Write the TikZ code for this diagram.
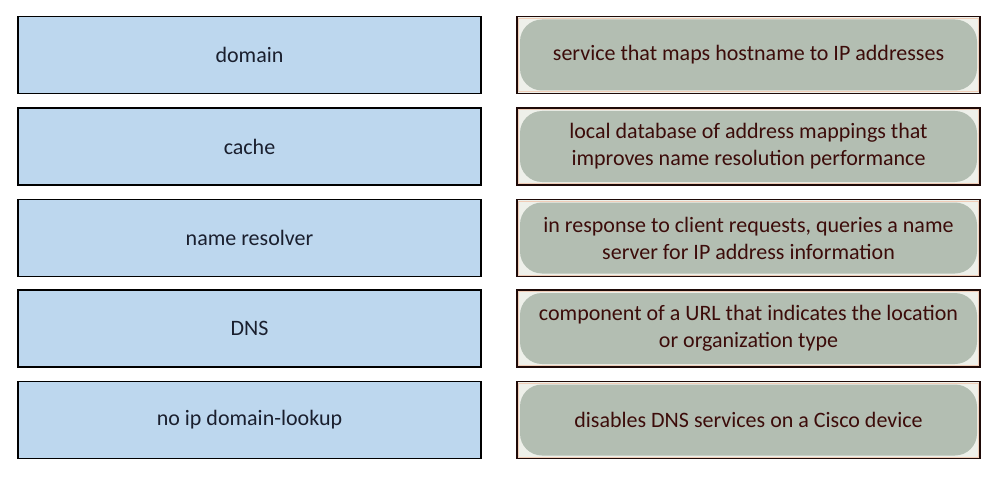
\documentclass[tikz,border=0pt]{standalone}
\usepackage{fontspec}
\setmainfont{Carlito}
\definecolor{lblue}{HTML}{BDD7EE}
\definecolor{ltext}{HTML}{1A1F2E}
\definecolor{rgreen}{HTML}{B3BEB2}
\definecolor{rrim}{HTML}{EEF0EA}
\definecolor{rline}{HTML}{F0CDB8}
\definecolor{rtext}{HTML}{3C0C0A}
\definecolor{rborder}{HTML}{1E0A08}
\begin{document}
\begin{tikzpicture}[x=1pt,y=1pt,
  lbox/.style={draw=black, line width=1.6pt, fill=lblue, minimum width=463pt, minimum height=77pt,
    text=ltext, font=\fontsize{22}{27}\selectfont, align=center, inner sep=0pt},
  rbox/.style={draw=rborder, line width=1.6pt, fill=rrim, minimum width=463pt, minimum height=77pt,
    text=rtext, font=\fontsize{22}{27}\selectfont, align=center, inner sep=0pt,
    path picture={\fill[rgreen, rounded corners=22pt]
      ([shift={(3pt,3pt)}]path picture bounding box.south west) rectangle
      ([shift={(-3pt,-3pt)}]path picture bounding box.north east);
      \draw[rline, line width=0.8pt]
      ([shift={(1.6pt,1.6pt)}]path picture bounding box.south west) rectangle
      ([shift={(-1.6pt,-1.6pt)}]path picture bounding box.north east);}}
]
\useasboundingbox (0,0) rectangle (1000,480);
\fill[white] (0,0) rectangle (1000,480);
\node[lbox] (l1) at (249.5,425) {domain};
\node[lbox] (l2) at (249.5,333.5) {cache};
\node[lbox] (l3) at (249.5,242) {name resolver};
\node[lbox] (l4) at (249.5,151.5) {DNS};
\node[lbox] (l5) at (249.5,60) {no ip domain-lookup};
\node[rbox] (r1) at (748.5,425) {service that maps hostname to IP addresses};
\node[rbox] (r2) at (748.5,333.5) {local database of address mappings that\\improves name resolution performance};
\node[rbox] (r3) at (748.5,242) {in response to client requests, queries a name\\server for IP address information};
\node[rbox] (r4) at (748.5,151.5) {component of a URL that indicates the location\\or organization type};
\node[rbox] (r5) at (748.5,60) {disables DNS services on a Cisco device};
\end{tikzpicture}
\end{document}
